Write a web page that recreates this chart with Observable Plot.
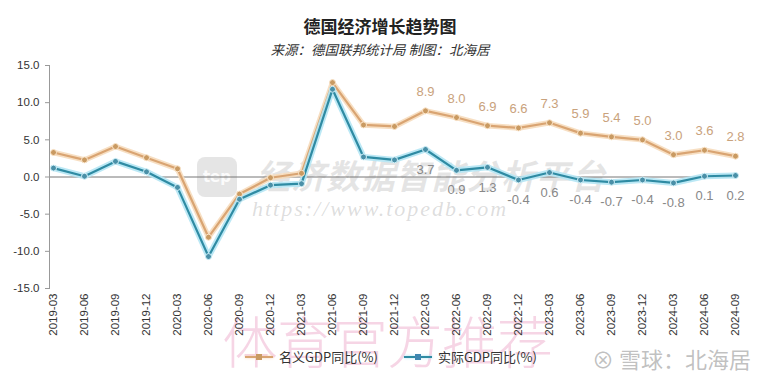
<!DOCTYPE html>
<html><head><meta charset="utf-8">
<script src="https://cdn.jsdelivr.net/npm/d3@7"></script>
<script src="https://cdn.jsdelivr.net/npm/@observablehq/plot@0.6"></script>
<style>
body{margin:0;background:#fff;font-family:"Noto Sans CJK SC","Noto Sans",sans-serif;}
#wrap{position:relative;width:760px;height:380px;overflow:hidden;background:#fff}
.abs{position:absolute}
#title{top:13px;left:0;width:760px;text-align:center;font-size:17px;font-weight:bold;color:#222}
#sub{top:39px;left:0;width:760px;text-align:center;font-size:13.5px;font-style:italic;color:#333}
#chart{top:58px;left:0}
#legend{top:347px;left:245px;font-size:13px;color:#333;display:flex;align-items:center;gap:6px}
.sym{display:inline-block;width:28px;height:12px;position:relative}
.sym i{position:absolute;left:0;right:0;top:5px;height:2px}
.sym b{position:absolute;left:11px;top:3px;width:6px;height:6px}
#wm1{top:298px;left:222px;font-size:56px;color:rgba(232,150,190,0.4);font-family:"Noto Sans CJK SC";font-weight:300;letter-spacing:-1px}
#wm2{top:150px;left:256px;font-size:34px;color:rgba(150,150,150,0.25);font-style:italic;font-weight:bold;letter-spacing:1px}
#wm3{top:196px;left:252px;font-size:22px;color:rgba(150,150,150,0.33);font-style:italic;font-family:"Liberation Serif",serif;letter-spacing:2px}
#logo{top:157px;left:197px;width:40px;height:40px;border-radius:8px;background:rgba(150,150,150,0.25);color:rgba(255,255,255,0.9);font:bold 15px "DejaVu Sans";text-align:center;line-height:40px}
#wm4{top:342px;left:592px;font-size:22px;color:rgba(140,140,140,0.55)}
</style></head>
<body><div id="wrap">
<div id="title" class="abs">德国经济增长趋势图</div>
<div id="sub" class="abs">来源：德国联邦统计局 制图：北海居</div>
<div id="logo" class="abs">tep</div>
<div id="wm2" class="abs">经济数据智能分析平台</div>
<div id="wm3" class="abs">https://www.topedb.com</div>
<div id="wm1" class="abs">体育官方推荐</div>
<div id="chart" class="abs"></div>
<div id="legend" class="abs">
  <span class="sym"><i style="background:#d9a472;box-shadow:0 0 3px #f3d4ae"></i><b style="background:#c99a62"></b></span><span>名义GDP同比(%)</span>
  <span style="width:14px"></span>
  <span class="sym"><i style="background:#2f8ba3;box-shadow:0 0 3px #9fdcef"></i><b style="background:#3f86b0"></b></span><span>实际GDP同比(%)</span>
</div>
<div id="wm4" class="abs">⊗ 雪球：北海居</div>
</div>
<script>
const quarters = ["2019-03","2019-06","2019-09","2019-12","2020-03","2020-06","2020-09","2020-12","2021-03","2021-06","2021-09","2021-12","2022-03","2022-06","2022-09","2022-12","2023-03","2023-06","2023-09","2023-12","2024-03","2024-06","2024-09"];
const nominal = [3.3,2.3,4.1,2.6,1.1,-8.1,-2.3,-0.1,0.5,12.7,7.0,6.8,8.9,8.0,6.9,6.6,7.3,5.9,5.4,5.0,3.0,3.6,2.8];
const real = [1.2,0.1,2.1,0.7,-1.4,-10.7,-3.0,-1.1,-0.9,11.8,2.7,2.3,3.7,0.9,1.3,-0.4,0.6,-0.4,-0.7,-0.4,-0.8,0.1,0.2];
const seriesNames = ["名义GDP同比(%)","实际GDP同比(%)"];
const yTicks = [-15,-10,-5,0,5,10,15];
const labelFrom = "2022-03";

const nomData = quarters.map((q,i)=>({q, v:nominal[i], s:seriesNames[0]}));
const realData = quarters.map((q,i)=>({q, v:real[i], s:seriesNames[1]}));
const startIdx = quarters.indexOf(labelFrom);
const nomLab = nomData.slice(startIdx);
const realLab = realData.slice(startIdx);

const chart = Plot.plot({
  width: 760, height: 290,
  marginLeft: 49, marginRight: 22, marginTop: 7, marginBottom: 60,
  style: {fontFamily: "'Liberation Sans Narrow', 'Liberation Sans', Arial, sans-serif", background: "transparent"},
  x: {type: "point", domain: quarters, padding: 0.1},
  y: {domain: [-15, 15]},
  marks: [
    Plot.ruleY([0], {stroke: "#777", strokeWidth: 1}),
    Plot.frame({anchor: "left", stroke: "#999"}),
    Plot.axisY({ticks: yTicks, tickFormat: d => d.toFixed(1), tickSize: 4, tickPadding: 6, fontSize: 11.5, fill: "#333", stroke: "#999", label: null}),
    Plot.axisX({tickRotate: -90, tickSize: 0, tickPadding: 5, fontSize: 11.5, fill: "#333", label: null}),
    Plot.line(nomData, {x: "q", y: "v", stroke: "#f6dcbc", strokeWidth: 5.5, strokeOpacity: 0.9}),
    Plot.line(nomData, {x: "q", y: "v", stroke: "#d9a472", strokeWidth: 2.2}),
    Plot.line(realData, {x: "q", y: "v", stroke: "#b4e6f4", strokeWidth: 6, strokeOpacity: 0.9}),
    Plot.line(realData, {x: "q", y: "v", stroke: "#2f8ba3", strokeWidth: 2.2}),
    Plot.dot(nomData, {x: "q", y: "v", r: 3, fill: "#c99a62", stroke: "#fbe6cc", strokeWidth: 1}),
    Plot.dot(realData, {x: "q", y: "v", r: 3, fill: "#4a90a8", stroke: "#d4f2fa", strokeWidth: 1}),
    Plot.text(nomLab, {x: "q", y: "v", text: d => d.v.toFixed(1), dy: -19, fill: "#c9a27c", fontSize: 13}),
    Plot.text(realLab, {x: "q", y: "v", text: d => d.v.toFixed(1), dy: 20, fill: "#888", fontSize: 13})
  ]
});
document.getElementById("chart").appendChild(chart);
</script>
</body></html>
